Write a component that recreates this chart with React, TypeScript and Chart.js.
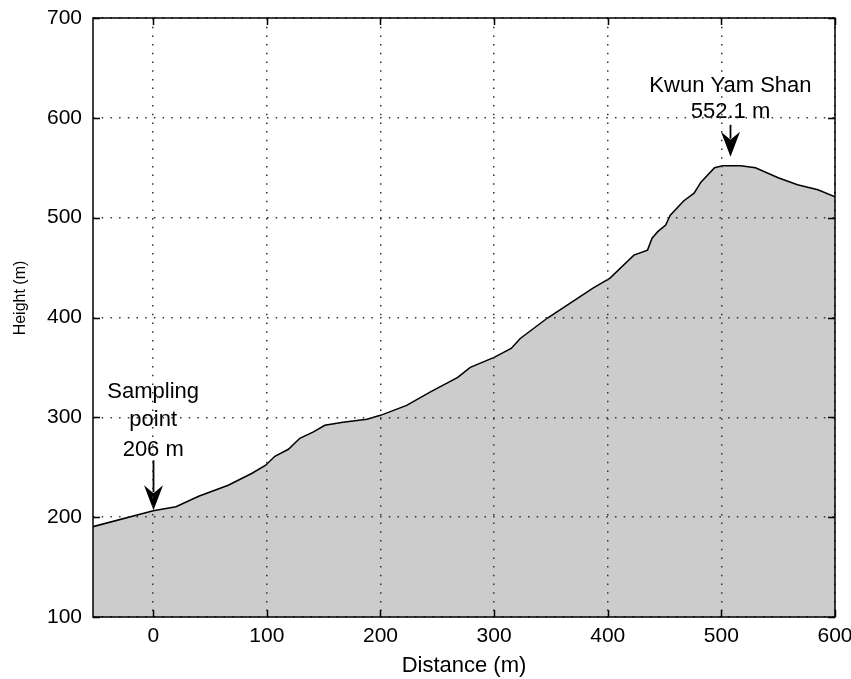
import { useEffect, useRef } from 'react';
import { Chart, registerables } from 'chart.js';

Chart.register(...registerables);

// Profile data (distance in m, height in m)
const DISTANCE = [
  -53, 0, 20, 40, 66, 87, 99, 107, 119, 129, 141, 151, 167, 188, 200, 223, 244,
  268, 279, 300, 315, 323, 347, 367, 387, 402, 423, 435, 439, 444, 451, 455, 467,
  476, 482, 494, 501, 517, 530, 550, 567, 585, 600,
];
const HEIGHT = [
  190.5, 206.5, 210.5, 221, 232, 244, 252, 261, 268, 279, 285.5, 292, 295, 298, 302,
  312, 325.5, 340, 350, 360, 369, 379, 399.5, 414.5, 429.5, 439.5, 462.5, 467.5,
  479.5, 486, 492.5, 502.5, 517, 524.5, 535.5, 550, 552, 552.1, 550, 540, 533, 528, 521,
];

const X_TICKS = [0, 100, 200, 300, 400, 500, 600];
const Y_TICKS = [100, 200, 300, 400, 500, 600, 700];

const X_TITLE = 'Distance (m)';
const Y_TITLE = 'Height (m)';

// Annotations (data coordinates)
const NOTE_LINES = [
  ['Sampling', 'point', '206 m'],
  ['Kwun Yam Shan', '552.1 m'],
];
const NOTE_X = [0, 508];
const NOTE_LINE_Y = [
  [325, 297, 267],
  [632, 606],
];
const NOTE_ARROW_FROM = [257, 593];
const NOTE_ARROW_TO = [207, 561];

const FONT = 'Liberation Sans, Arial, Helvetica, sans-serif';

const annotationPlugin = {
  id: 'notes',
  afterDatasetsDraw(chart: any) {
    const { ctx, scales } = chart;
    const xs = scales.x;
    const ys = scales.y;
    ctx.save();
    ctx.fillStyle = '#000';
    ctx.strokeStyle = '#000';
    ctx.font = `22px ${FONT}`;
    ctx.textAlign = 'center';
    ctx.textBaseline = 'middle';
    NOTE_LINES.forEach((lines, i) => {
      const px = xs.getPixelForValue(NOTE_X[i]);
      lines.forEach((t, j) => {
        ctx.fillText(t, px, ys.getPixelForValue(NOTE_LINE_Y[i][j]));
      });
      const y0 = ys.getPixelForValue(NOTE_ARROW_FROM[i]);
      const y1 = ys.getPixelForValue(NOTE_ARROW_TO[i]);
      const ax = Math.round(px) + 0.5;
      ctx.lineWidth = 1.8;
      ctx.beginPath();
      ctx.moveTo(ax, y0);
      ctx.lineTo(ax, y1 - 18);
      ctx.stroke();
      ctx.beginPath();
      ctx.moveTo(ax, y1);
      ctx.lineTo(ax - 9.5, y1 - 25);
      ctx.lineTo(ax, y1 - 17);
      ctx.lineTo(ax + 9.5, y1 - 25);
      ctx.closePath();
      ctx.fill();
    });
    ctx.restore();
  },
};

const framePlugin = {
  id: 'frame',
  afterDraw(chart: any) {
    const { ctx, chartArea, scales } = chart;
    const { left, right, top, bottom } = chartArea;
    ctx.save();
    ctx.strokeStyle = '#000';
    ctx.lineWidth = 1.5;
    ctx.setLineDash([]);
    ctx.strokeRect(left, top, right - left, bottom - top);
    const tl = 7;
    ctx.beginPath();
    X_TICKS.forEach((v) => {
      const p = Math.round(scales.x.getPixelForValue(v)) + 0.5;
      ctx.moveTo(p, bottom);
      ctx.lineTo(p, bottom - tl);
      ctx.moveTo(p, top);
      ctx.lineTo(p, top + tl);
    });
    Y_TICKS.forEach((v) => {
      const p = Math.round(scales.y.getPixelForValue(v)) + 0.5;
      ctx.moveTo(left, p);
      ctx.lineTo(left + tl, p);
      ctx.moveTo(right, p);
      ctx.lineTo(right - tl, p);
    });
    ctx.stroke();
    // vertical axis title
    ctx.fillStyle = '#000';
    ctx.font = `16px ${FONT}`;
    ctx.textAlign = 'center';
    ctx.textBaseline = 'middle';
    ctx.translate(21, 298);
    ctx.rotate(-Math.PI / 2);
    ctx.fillText(Y_TITLE, 0, 0);
    ctx.restore();
  },
};

export default function App() {
  const ref = useRef<HTMLCanvasElement>(null);
  useEffect(() => {
    const canvas = ref.current;
    if (!canvas) return;
    const chart = new Chart(canvas, {
      type: 'line',
      data: {
        datasets: [
          {
            data: DISTANCE.map((x, i) => ({ x, y: HEIGHT[i] })),
            borderColor: '#000',
            borderWidth: 1.5,
            backgroundColor: '#cccccc',
            fill: 'start',
            pointRadius: 0,
            tension: 0,
          },
        ],
      },
      options: {
        responsive: false,
        animation: false,
        devicePixelRatio: 1,
        layout: { padding: { top: 18, right: 16, left: 0, bottom: 0 } },
        plugins: { legend: { display: false }, tooltip: { enabled: false } },
        scales: {
          x: {
            type: 'linear',
            min: -53,
            max: 600,
            z: 1,
            afterBuildTicks: (s: any) => {
              s.ticks = X_TICKS.map((v) => ({ value: v }));
            },
            afterFit: (s: any) => {
              s.height = 62;
              s.paddingLeft = 0;
              s.paddingRight = 0;
            },
            ticks: {
              padding: 7,
              color: '#000',
              maxRotation: 0,
              autoSkip: false,
              font: { family: FONT, size: 21 },
            },
            grid: { color: '#333', lineWidth: 1.5, drawTicks: false, z: 1 },
            border: { display: false, dash: [1.5, 7.2] },
            title: {
              display: true,
              text: X_TITLE,
              color: '#000',
              font: { family: FONT, size: 22 },
              padding: { top: 0, bottom: 0 },
            },
          },
          y: {
            type: 'linear',
            min: 100,
            max: 700,
            z: 1,
            afterBuildTicks: (s: any) => {
              s.ticks = Y_TICKS.map((v) => ({ value: v }));
            },
            afterFit: (s: any) => {
              s.width = 93;
              s.paddingTop = 0;
              s.paddingBottom = 0;
            },
            ticks: {
              padding: 11,
              color: '#000',
              autoSkip: false,
              font: { family: FONT, size: 21 },
            },
            grid: { color: '#333', lineWidth: 1.5, drawTicks: false, z: 1 },
            border: { display: false, dash: [1.5, 7.2] },
            title: { display: false },
          },
        },
      },
      plugins: [annotationPlugin, framePlugin],
    } as any);
    return () => chart.destroy();
  }, []);
  return (
    <div style={{ position: 'absolute', left: 0, top: 0, width: 851, height: 679, background: '#fff' }}>
      <canvas ref={ref} width={851} height={679} style={{ display: 'block' }} />
    </div>
  );
}
